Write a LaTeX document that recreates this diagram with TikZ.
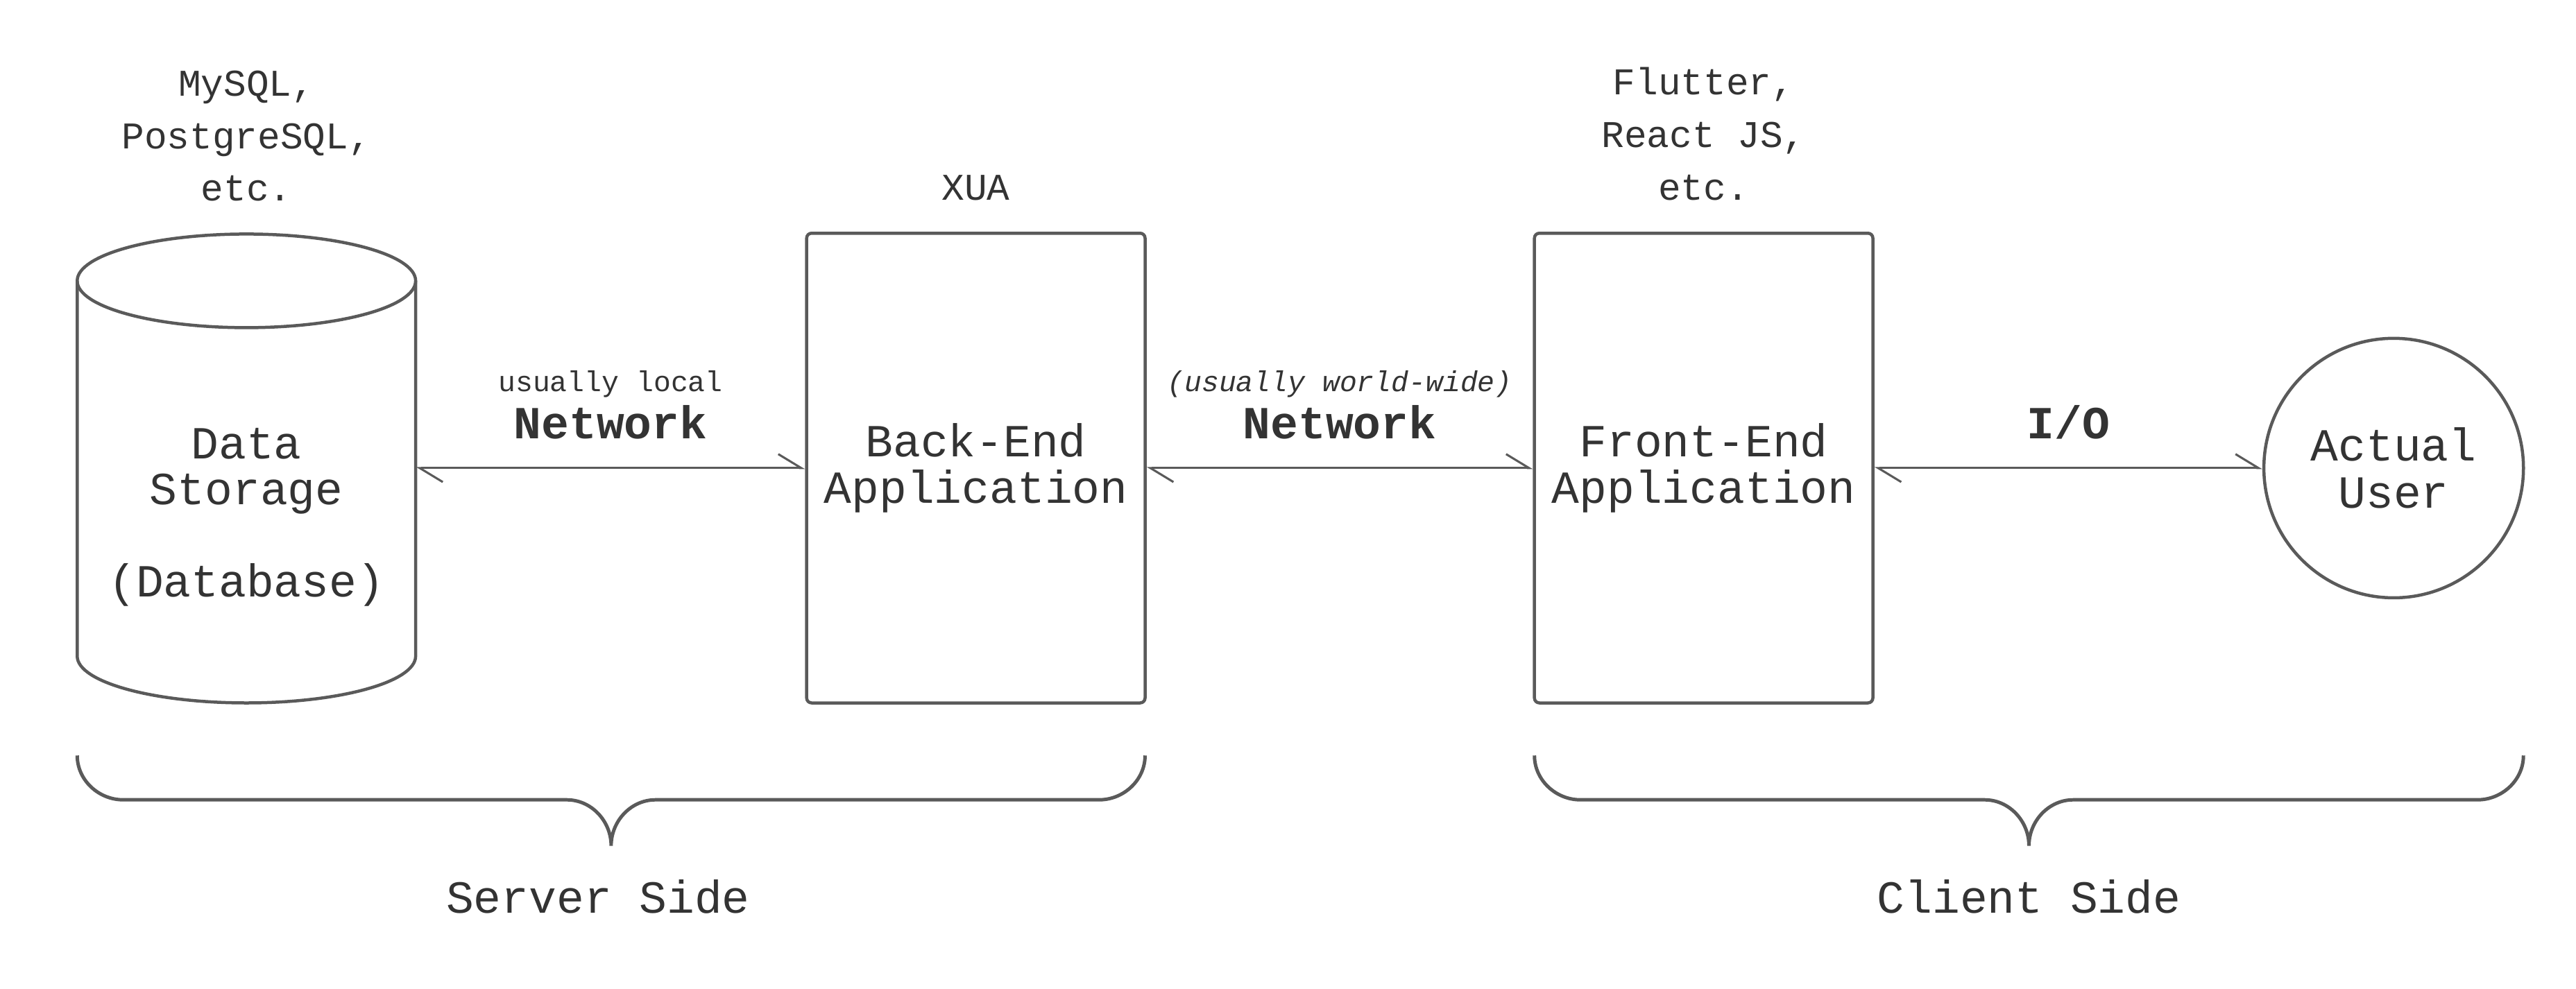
\documentclass[tikz,border=0pt]{standalone}
\usepackage{fontspec}
\setmainfont{Liberation Mono}
\usetikzlibrary{arrows.meta,positioning}
\definecolor{lgray}{HTML}{5A5A5A}
\definecolor{tgray}{HTML}{333333}

\begin{document}
\begin{tikzpicture}[x=1pt, y=-1pt]

  % Frame of the picture
  \useasboundingbox (0,0) rectangle (1568,601.8);

  \tikzset{
    appbox/.style = {draw=lgray, line width=1.9pt, rounded corners=3pt, minimum width=206pt, minimum height=286pt, inner sep=0pt, align=center, text=tgray, font=\fontsize{28}{28.5}\selectfont},
    usr/.style = {draw=lgray, line width=1.9pt, circle, minimum size=158pt, inner sep=0pt, align=center, text=tgray, font=\fontsize{28}{28.5}\selectfont},
    tech/.style = {inner sep=0pt, align=center, text=tgray, font=\fontsize{23}{32}\selectfont},
    netlbl/.style = {inner sep=0pt, text=tgray, font=\fontsize{28}{28.5}\selectfont\bfseries},
    note/.style = {inner sep=0pt, text=tgray, font=\fontsize{17.5}{20}\selectfont},
    side/.style = {inner sep=0pt, text=tgray, font=\fontsize{28}{28.5}\selectfont},
    conn/.style = {draw=lgray, line width=1.3pt, >={Straight Barb[harpoon, length=14pt, width=17pt]}, <->},
    brc/.style = {draw=lgray, line width=2.1pt}
  }

  % Database cylinder
  \node[minimum width=206pt, minimum height=286pt, inner sep=0pt] (db) at (150,285) {};
  \draw[lgray, line width=1.9pt] (150,171) ellipse [x radius=103, y radius=28.5];
  \draw[lgray, line width=1.9pt] (47,171) -- (47,399.5)
        arc[start angle=180, end angle=0, x radius=103, y radius=28.5] -- (253,171);
  \node[tech, font=\fontsize{28}{28}\selectfont] (dbtxt) at (150,315) {Data\\Storage\\[28pt](Database)};

  % Applications and user
  \node[appbox] (be) at (594,285) {Back-End\\Application};
  \node[appbox] (fe) at (1037,285) {Front-End\\Application};
  \node[usr] (user) at (1457,285) {Actual\\User};

  % Technologies above
  \node[tech, above=19pt of db] (dbtech) {MySQL,\\PostgreSQL,\\etc.};
  \node[tech, above=19pt of be] (betech) {XUA};
  \node[tech, above=19pt of fe] (fetech) {Flutter,\\React JS,\\etc.};

  % Connectors
  \draw[conn] (db.east) -- node[netlbl, yshift=28pt] (net1) {Network}
        node[note, yshift=51pt] (loc) {usually local} (be.west);
  \draw[conn] (be.east) -- node[netlbl, yshift=28pt] (net2) {Network}
        node[note, yshift=51pt] (www) {\itshape(usually world-wide)} (fe.west);
  \draw[conn] (fe.east) -- node[netlbl, yshift=28pt] (io) {I/O} (user.west);

  % Braces
  \foreach \l/\t/\r in {47/372/697, 934/1235/1536} {
    \draw[brc] (\l,460) .. controls (\l,475) and (\l+13,487) .. (\l+28,487)
          -- (\t-27,487) .. controls (\t-12,487) and (\t,500) .. (\t,515)
          .. controls (\t,500) and (\t+12,487) .. (\t+27,487)
          -- (\r-28,487) .. controls (\r-13,487) and (\r,475) .. (\r,460);
  }
  \node[side] (srv) at (364,546) {Server Side};
  \node[side] (cli) at (1235,546) {Client Side};

\end{tikzpicture}
\end{document}
